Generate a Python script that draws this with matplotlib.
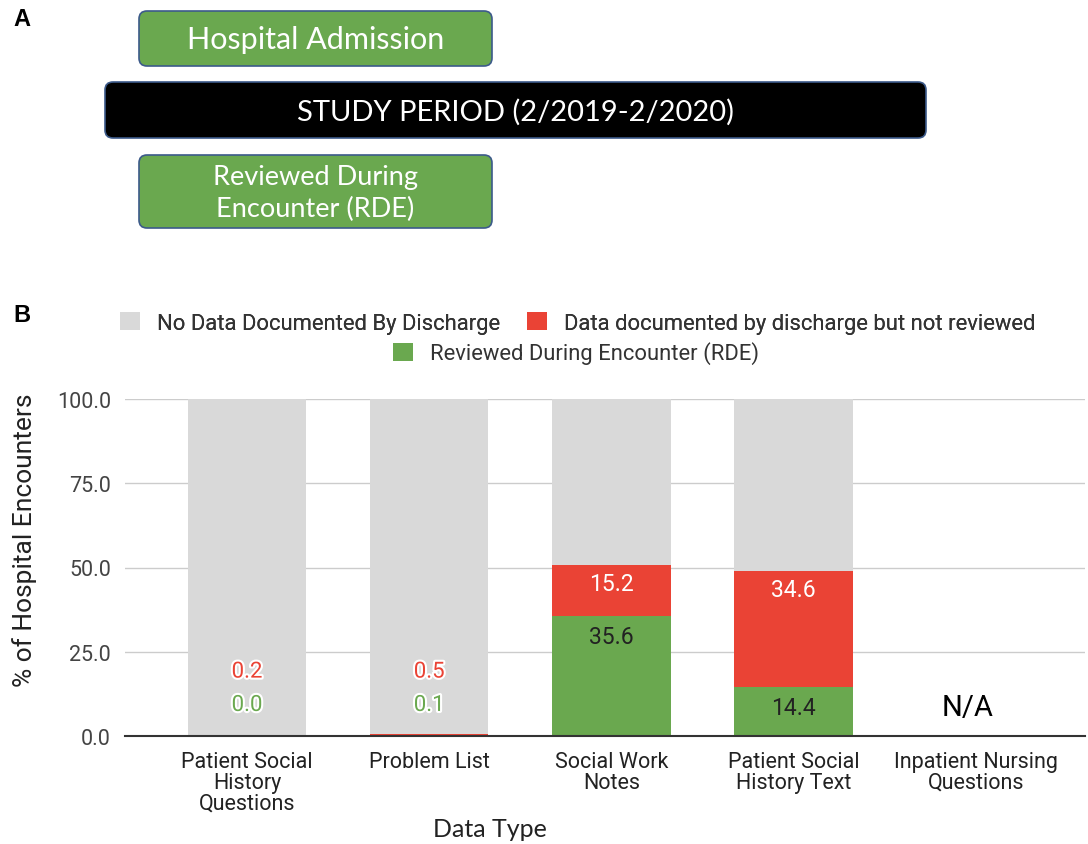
import numpy as np
import matplotlib
matplotlib.use("Agg")
import matplotlib.pyplot as plt
import matplotlib.patheffects as pe
from matplotlib.patches import FancyBboxPatch, Patch

# ---- data ----
categories = [
    "Patient Social\nHistory\nQuestions",
    "Problem List",
    "Social Work\nNotes",
    "Patient Social\nHistory Text",
    "Inpatient Nursing\nQuestions",
]
rde = [0.0, 0.1, 35.6, 14.4, np.nan]
not_reviewed = [0.2, 0.5, 15.2, 34.6, np.nan]
yticks = [0, 25, 50, 75, 100]
legend_labels = [
    "No Data Documented By Discharge",
    "Data documented by discharge but not reviewed",
    "Reviewed During Encounter (RDE)",
]
timeline_texts = ["Hospital Admission", "STUDY PERIOD (2/2019-2/2020)",
                  "Reviewed During\nEncounter (RDE)"]

GREY = "#d9d9d9"
RED = "#ea4335"
GREEN = "#6aa84f"

rde_a = np.array(rde)
nr_a = np.array(not_reviewed)
no_data = 100 - rde_a - nr_a
x = np.arange(len(categories))
has = ~np.isnan(rde_a)

W, H = 1088, 845
plt.rcParams["font.family"] = ["Roboto", "DejaVu Sans"]
fig = plt.figure(figsize=(W / 100, H / 100), dpi=100)

# ---- panel A: timeline boxes ----
axA = fig.add_axes([0, 0, 1, 1])
axA.set_xlim(0, W)
axA.set_ylim(H, 0)
axA.axis("off")
boxes = [(139, 12, 353, 55, GREEN), (105, 83, 821, 56, "black"),
         (139, 156, 353, 73, GREEN)]
sizes = [22, 21, 19.5]
for (bx, by, bw, bh, col), txt, fs in zip(boxes, timeline_texts, sizes):
    axA.add_patch(FancyBboxPatch((bx + 8, by + 8), bw - 16, bh - 16,
                                 boxstyle="round,pad=8", fc=col,
                                 ec="#3c5a8a", lw=1.2))
    axA.text(bx + bw / 2, by + bh / 2 + 1, txt, color="white", fontsize=fs,
             ha="center", va="center", family="Lato", linespacing=1.3)
axA.text(13, 19, "A", fontsize=17, fontweight="bold", va="center",
         family="Liberation Sans")
axA.text(13, 316, "B", fontsize=17, fontweight="bold", va="center",
         family="Liberation Sans")

# ---- panel B: stacked bars ----
ax = fig.add_axes([125 / W, (H - 737) / H, (1085 - 125) / W, (737 - 400) / H])
bw = 0.65
ax.bar(x[has], rde_a[has], bw, color=GREEN, zorder=2)
ax.bar(x[has], nr_a[has], bw, bottom=rde_a[has], color=RED, zorder=2)
ax.bar(x[has], no_data[has], bw, bottom=(rde_a + nr_a)[has], color=GREY, zorder=2)

ax.set_xlim(-0.67, 4.6)
ax.set_ylim(0, 100)
ax.set_yticks(yticks)
ax.set_yticklabels([f"{v:.1f}" for v in yticks], fontsize=15.5, color="#444444")
ax.set_xticks(x)
ax.set_xticklabels(categories, fontsize=15.5, color="#222222", linespacing=1.0)
ax.tick_params(axis="both", length=0)
ax.tick_params(axis="x", pad=10.5)
ax.tick_params(axis="y", pad=10)
ax.grid(axis="y", color="#cccccc", lw=1, zorder=0)
for s in ["top", "right", "left"]:
    ax.spines[s].set_visible(False)
ax.spines["bottom"].set_color("#333333")
ax.spines["bottom"].set_linewidth(1.5)
ax.spines["bottom"].set_zorder(3)

outline = [pe.withStroke(linewidth=3, foreground="white")]
for i in x[has]:
    g, r = rde_a[i], nr_a[i]
    if g + r < 5:
        ax.annotate(f"{g:.1f}", (i, 0), xytext=(0, 22), textcoords="offset points",
                    ha="center", va="center", fontsize=16, color=GREEN,
                    path_effects=outline, zorder=4)
        ax.annotate(f"{r:.1f}", (i, 0), xytext=(0, 46), textcoords="offset points",
                    ha="center", va="center", fontsize=16, color=RED,
                    path_effects=outline, zorder=4)
    else:
        ax.annotate(f"{g:.1f}", (i, g), xytext=(0, -14.5), textcoords="offset points",
                    ha="center", va="center", fontsize=16.5, color="#222222", zorder=4)
        ax.annotate(f"{r:.1f}", (i, g + r), xytext=(0, -13.5), textcoords="offset points",
                    ha="center", va="center", fontsize=16.5, color="white", zorder=4)
for i in x[~has]:
    ax.annotate("N/A", (i, 0), xytext=(-6, 21), textcoords="offset points",
                ha="center", va="center", fontsize=21, color="black")

ax.set_ylabel("% of Hospital Encounters", fontsize=19, color="#222222")
ax.yaxis.set_label_coords(-0.092, 0.585)
fig.text(490 / W, 1 - 830 / H, "Data Type", fontsize=18, family="Lato",
         ha="center", va="center", color="#222222")

handles = [Patch(fc=c, ec="none") for c in (GREY, RED, GREEN)]
leg1 = fig.legend(handles[:2], legend_labels[:2], loc="center",
                  bbox_to_anchor=(578 / W, 1 - 324 / H), ncol=2, frameon=False,
                  fontsize=15.8, handlelength=0.91, handleheight=0.91,
                  handletextpad=0.77, columnspacing=1.23)
fig.add_artist(leg1)
leg2 = fig.legend(handles[2:], legend_labels[2:], loc="center",
                  bbox_to_anchor=(576 / W, 1 - 354 / H), frameon=False,
                  fontsize=15.8, handlelength=0.91, handleheight=0.91,
                  handletextpad=0.77)
for leg in (leg1, leg2):
    for t in leg.get_texts():
        t.set_color("#333333")

fig.savefig("out.png", dpi=100)
